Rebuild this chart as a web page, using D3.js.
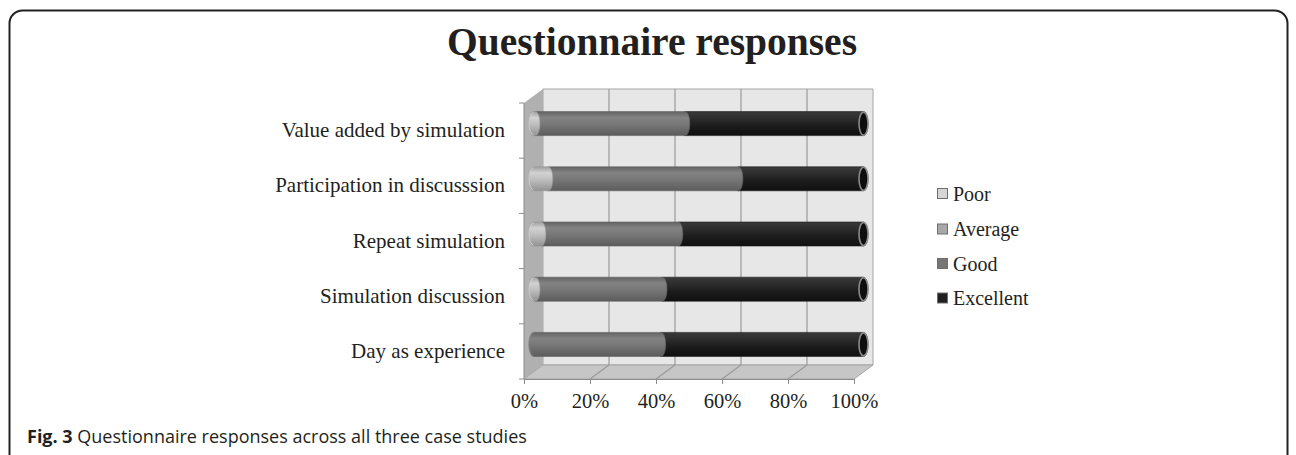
<!DOCTYPE html>
<html><head><meta charset="utf-8">
<script src="https://cdn.jsdelivr.net/npm/d3@7"></script>
<style>body{margin:0;background:#fff}svg{display:block}</style>
</head><body>
<svg id="c" width="1296" height="455"></svg>
<script>
// ---- data ----
const categories = ["Value added by simulation","Participation in discusssion","Repeat simulation","Simulation discussion","Day as experience"];
const seriesNames = ["Poor","Average","Good","Excellent"];
const poor      = [0.6, 4.5, 2.4, 0.6, 0];
const average   = [0, 0, 0, 0, 0];
const good      = [45.4, 57.6, 41.5, 38.5, 38.7];
const excellent = [54.0, 37.9, 56.1, 60.9, 61.3];
const tickValues = [0, 20, 40, 60, 80, 100];
const title = "Questionnaire responses";
const captionBold = "Fig. 3";
const captionText = " Questionnaire responses across all three case studies";

const colors = ["#d6d6d6", "#a8a8a8", "#767676", "#1f1f1f"];
const barColors = ["#bdbdbd", "#a8a8a8", "#767676", "#1f1f1f"];

const svg = d3.select("#c");
const defs = svg.append("defs");

// border
svg.append("rect").attr("x",9.5).attr("y",10.5).attr("width",1278).attr("height",462)
  .attr("rx",13).attr("fill","none").attr("stroke","#222").attr("stroke-width",2);

svg.append("text").attr("x",652).attr("y",55).attr("text-anchor","middle")
  .attr("font-family","Liberation Serif").attr("font-weight","bold").attr("font-size",39.5)
  .attr("fill","#231f20").text(title);

// scales
const x = d3.scaleLinear().domain([0,100]).range([524,854]);
const y = d3.scaleBand().domain(categories).range([103,379]);
const dx = 19, dy = -14;
const top0 = 103, bot0 = 379;

// walls
const g = svg.append("g");
g.append("polygon").attr("points",[[x(0)+dx,top0+dy],[x(100)+dx,top0+dy],[x(100)+dx,bot0+dy],[x(0)+dx,bot0+dy]].join(" "))
  .attr("fill","#e7e7e8").attr("stroke","#a5a5a5").attr("stroke-width",1);
g.append("polygon").attr("points",[[x(0),top0],[x(0)+dx,top0+dy],[x(0)+dx,bot0+dy],[x(0),bot0]].join(" "))
  .attr("fill","#b0b0b1");
g.append("polygon").attr("points",[[x(0),bot0],[x(100),bot0],[x(100)+dx,bot0+dy],[x(0)+dx,bot0+dy]].join(" "))
  .attr("fill","#c6c6c7").attr("stroke","#a5a5a5").attr("stroke-width",1);
// gridlines
tickValues.slice(1,5).forEach(v=>{
  g.append("line").attr("x1",x(v)+dx).attr("x2",x(v)+dx).attr("y1",top0+dy).attr("y2",bot0+dy)
    .attr("stroke","#9a9a9a").attr("stroke-width",1.2);
  g.append("line").attr("x1",x(v)).attr("x2",x(v)+dx).attr("y1",bot0).attr("y2",bot0+dy)
    .attr("stroke","#9a9a9a").attr("stroke-width",1.2);
});

// axes
const yAxis = svg.append("g").attr("transform",`translate(${x(0)},0)`);
yAxis.append("line").attr("x1",0).attr("x2",0).attr("y1",top0).attr("y2",bot0).attr("stroke","#8c8c8c");
const bounds = categories.map(c=>y(c)).concat([bot0]);
bounds.forEach(b=>yAxis.append("line").attr("x1",-5).attr("x2",0).attr("y1",b).attr("y2",b).attr("stroke","#8c8c8c"));
categories.forEach(c=>{
  yAxis.append("text").attr("x",-19).attr("y",y(c)+y.bandwidth()/2+6.5).attr("text-anchor","end")
    .attr("font-family","Liberation Serif").attr("font-size",21).attr("fill","#231f20").text(c);
});

const xAxis = d3.axisBottom(x).tickValues(tickValues).tickFormat(d=>d+"%").tickSize(5).tickPadding(9);
const xg = svg.append("g").attr("transform",`translate(0,${bot0})`).call(xAxis);
xg.select(".domain").attr("stroke","#8c8c8c");
xg.selectAll(".tick line").attr("stroke","#8c8c8c");
xg.selectAll("text").attr("font-family","Liberation Serif").attr("font-size",20.5).attr("fill","#231f20");

// gradients
barColors.forEach((col,i)=>{
  const c = d3.color(col);
  const gr = defs.append("linearGradient").attr("id","gr"+i).attr("x1",0).attr("y1",0).attr("x2",0).attr("y2",1);
  const stops = i===3
    ? [[0,"#3a3a3a"],[0.3,"#2c2c2c"],[0.6,"#1c1c1c"],[1,"#101010"]]
    : [[0,c.darker(0.5)],[0.25,c.brighter(0.3)],[0.55,c],[1,c.darker(0.7)]];
  stops.forEach(s=>gr.append("stop").attr("offset",s[0]).attr("stop-color",s[1]));
});

// bars (cylinders)
const series = [poor, average, good, excellent];
const r = 12, rx = 4.5;
const bars = svg.append("g").attr("transform",`translate(${dx/2},${dy/2})`);
categories.forEach((c,ci)=>{
  const cy = y(c)+y.bandwidth()/2;
  let acc = 0;
  const segs = [];
  series.forEach((s,si)=>{ const v=s[ci]; if(v>0){segs.push({si,x0:x(acc),x1:x(acc+v)}); } acc+=v; });
  segs.slice().reverse().forEach(sg=>{
    const p = `M${sg.x0},${cy-r} L${sg.x1},${cy-r} A${rx},${r} 0 0 1 ${sg.x1},${cy+r} L${sg.x0},${cy+r} A${rx},${r} 0 0 1 ${sg.x0},${cy-r} Z`;
    bars.append("path").attr("d",p).attr("fill",`url(#gr${sg.si})`)
      .attr("stroke",d3.color(barColors[sg.si]).darker(0.6)).attr("stroke-width",0.6);
  });
  const last = segs[segs.length-1];
  bars.append("ellipse").attr("cx",last.x1).attr("cy",cy).attr("rx",rx).attr("ry",r-0.5)
    .attr("fill","#0e0e0e").attr("stroke","#8a8a8a").attr("stroke-width",1.6);
  const first = segs[0];
  bars.append("path").attr("d",`M${first.x0},${cy-r+1} A${rx},${r-1} 0 0 0 ${first.x0},${cy+r-1}`)
    .attr("fill","none").attr("stroke",d3.color(barColors[first.si]).brighter(0.4)).attr("stroke-width",0.8);
});

// legend
const lg = svg.append("g").attr("transform","translate(937,0)");
const ly = [194, 229.5, 264, 298.5];
seriesNames.forEach((n,i)=>{
  lg.append("rect").attr("x",0.5).attr("y",ly[i]-5.5).attr("width",10).attr("height",10)
    .attr("fill",colors[i]).attr("stroke","#6e6e6e").attr("stroke-width",1);
  lg.append("text").attr("x",16).attr("y",ly[i]+6.5).attr("font-family","Liberation Serif")
    .attr("font-size",20).attr("fill","#231f20").text(n);
});

// caption
const cap = svg.append("text").attr("x",27).attr("y",443).attr("font-family","Open Sans")
  .attr("font-size",18).attr("fill","#231f20");
cap.append("tspan").attr("font-weight","bold").text(captionBold);
cap.append("tspan").text(captionText);
</script>
</body></html>
